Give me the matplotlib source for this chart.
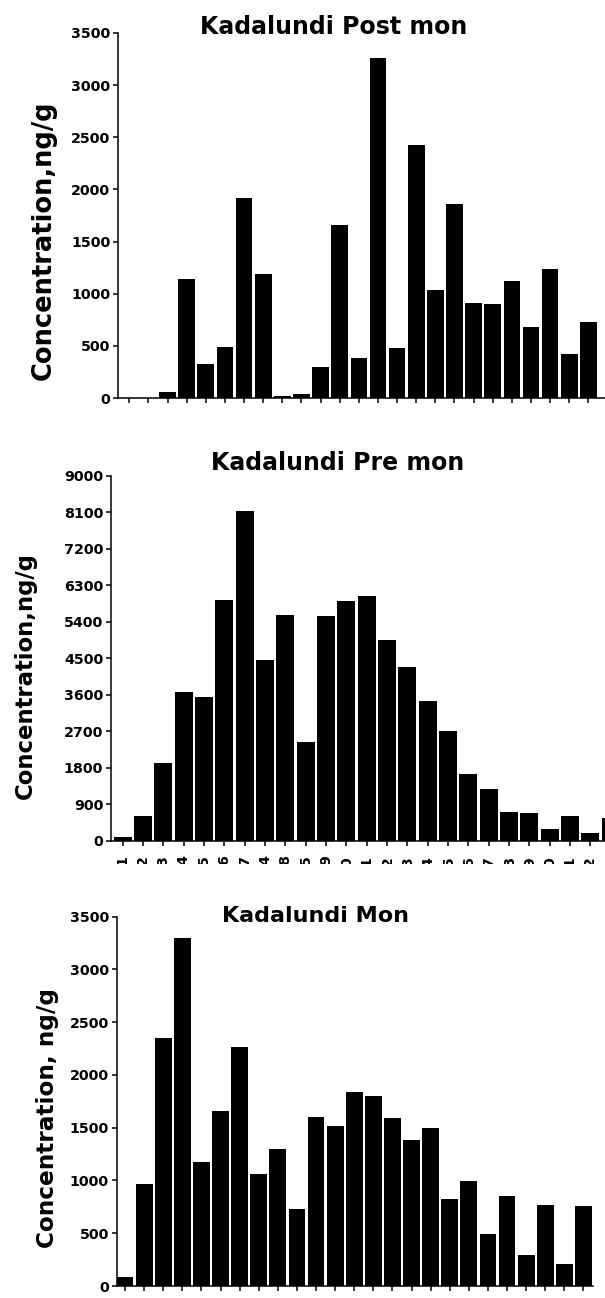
import matplotlib
matplotlib.use("Agg")
import matplotlib.pyplot as plt
from matplotlib.transforms import Bbox, TransformedBbox

plt.rcParams['font.family'] = ['DejaVu Sans']
plt.rcParams['font.weight'] = 'bold'

W, H = 605, 1298

sites = list(range(1, 26))
post_mon = [3, 3, 60, 1143, 329, 489, 1922, 1191, 22, 42, 294, 1657, 380,
            3264, 482, 2424, 1031, 1862, 913, 900, 1118, 683, 1233, 425, 725]
pre_mon = [80, 600, 1910, 3665, 3533, 5929, 8128, 4463, 5567, 2429, 5542,
           5904, 6044, 4949, 4274, 3442, 2701, 1647, 1268, 700, 683, 296,
           601, 181, 552]
mon = [85, 963, 2350, 3295, 1175, 1658, 2262, 1058, 1301, 730, 1605, 1513,
       1838, 1800, 1595, 1384, 1497, 824, 998, 496, 856, 291, 771, 208, 758]
pre_labels = ["1", "2", "3", "4", "5", "6", "7", "4", "8", "5", "9", "10",
              "11", "12", "13", "14", "15", "16", "17", "18", "19", "20",
              "21", "22", "23"]

titles = ["Kadalundi Post mon", "Kadalundi Pre mon", "Kadalundi Mon"]
ylabels = ["Concentration,ng/g", "Concentration,ng/g", "Concentration, ng/g"]
yticks_post = list(range(0, 3501, 500))
yticks_pre = list(range(0, 9001, 900))
yticks_mon = list(range(0, 3501, 500))

fig = plt.figure(figsize=(W / 100, H / 100), dpi=100)


def add_ax(left, top, bottom, right):
    return fig.add_axes([left / W, 1 - bottom / H, (right - left) / W, (bottom - top) / H])


def style(ax):
    for s in ['top', 'right']:
        ax.spines[s].set_visible(False)
    for s in ['left', 'bottom']:
        ax.spines[s].set_linewidth(1.1)
    ax.tick_params(direction='out', length=3.6, width=1.1, labelsize=10.3, pad=2)


# top panel
ax1 = add_ax(118, 33, 398, 607.5)
ax1.bar(sites, post_mon, width=0.87, color='black')
ax1.set_xlim(0.41, 26.0)
ax1.set_ylim(0, 3500)
ax1.set_yticks(yticks_post)
ax1.set_xticks(sites)
ax1.set_xticklabels([])
style(ax1)

# middle panel
ax2 = add_ax(111, 475.7, 840.5, 620.8)
ax2.bar(sites, pre_mon, width=0.885, color='black')
ax2.set_xlim(0.425, 25.5)
ax2.set_ylim(0, 9000)
ax2.set_yticks(yticks_pre)
ax2.set_xticks(sites)
ax2.set_xticklabels(pre_labels, rotation=90)
style(ax2)
ax2.tick_params(axis='x', pad=6.8)
clip = TransformedBbox(Bbox([[0, 1 - 864 / H], [1, 1]]), fig.transFigure)
xt_labels = ax2.get_xticklabels()
for lab in xt_labels:
    lab.set_clip_box(clip)
    lab.set_clip_on(True)
xt_labels[-1].set_visible(False)  # lies beyond the right edge of the picture

# bottom panel
ax3 = add_ax(116.7, 916.7, 1286, 593)
ax3.bar(sites, mon, width=0.88, color='black')
ax3.set_xlim(0.565, 25.5)
ax3.set_ylim(0, 3500)
ax3.set_yticks(yticks_mon)
ax3.set_xticks(sites)
ax3.set_xticklabels([])
style(ax3)

# titles
fig.text(334 / W, 1 - 27.5 / H, titles[0], ha='center', va='center', fontsize=17)
fig.text(338 / W, 1 - 462.5 / H, titles[1], ha='center', va='center', fontsize=17)
fig.text(315 / W, 1 - 915.8 / H, titles[2], ha='center', va='center', fontsize=16)

# y labels
fig.text(44 / W, 1 - 240 / H, ylabels[0], rotation=90, ha='center', va='center', fontsize=18.5)
fig.text(25 / W, 1 - 675.8 / H, ylabels[1], rotation=90, ha='center', va='center', fontsize=16.4)
fig.text(48 / W, 1 - 1118.3 / H, ylabels[2], rotation=90, ha='center', va='center', fontsize=16.7)

fig.savefig("out.png", dpi=100)
